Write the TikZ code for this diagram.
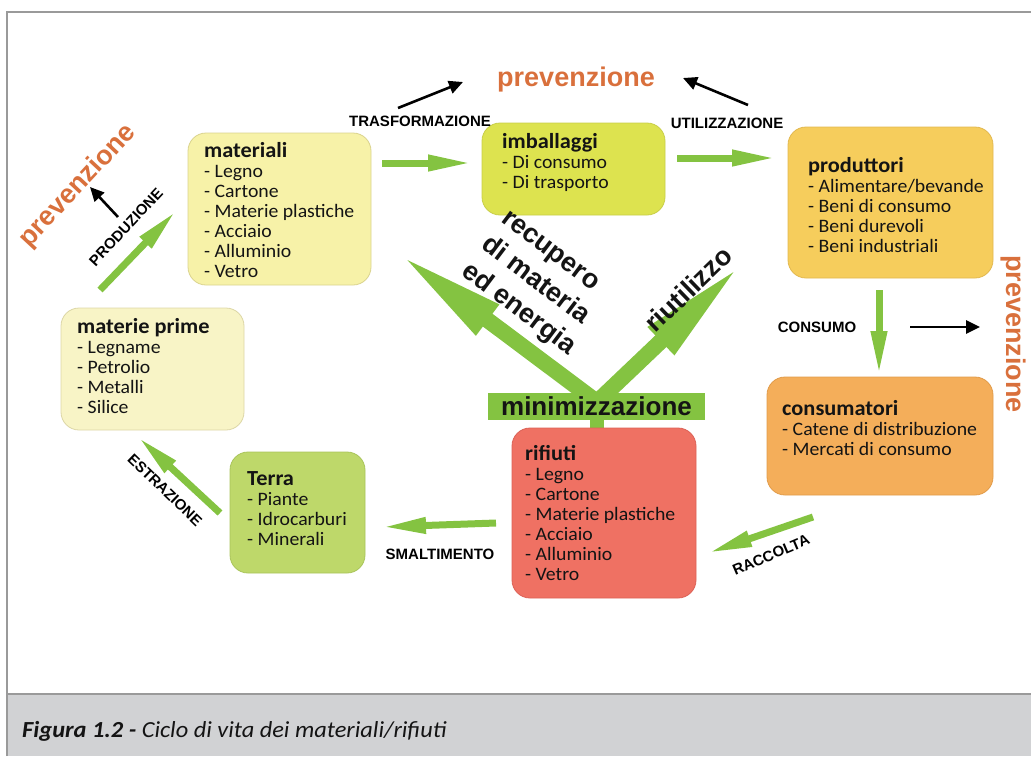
\documentclass[tikz,border=0pt]{standalone}
\usepackage{fontspec}
\setmainfont{Carlito}
\newfontfamily\boxfont[FakeStretch=1.04]{Carlito}
\newfontfamily\capfont[FakeStretch=1.06]{Carlito}
\newfontfamily\arialfont{Liberation Sans}
\usetikzlibrary{arrows.meta}
\definecolor{txt}{HTML}{141414}
\definecolor{agreen}{HTML}{84C341}
\definecolor{porange}{HTML}{D9703C}
\definecolor{cMat}{HTML}{F7F2A8}\definecolor{cMatB}{HTML}{DAD38E}
\definecolor{cImb}{HTML}{DDE34F}\definecolor{cImbB}{HTML}{C8CE48}
\definecolor{cProd}{HTML}{F6CD5C}\definecolor{cProdB}{HTML}{E2B84F}
\definecolor{cMp}{HTML}{F8F4C6}\definecolor{cMpB}{HTML}{DCD6A6}
\definecolor{cCons}{HTML}{F4AE5A}\definecolor{cConsB}{HTML}{E19B49}
\definecolor{cTerra}{HTML}{BED86A}\definecolor{cTerraB}{HTML}{A9C45B}
\definecolor{cRif}{HTML}{EF7163}\definecolor{cRifB}{HTML}{DC6156}
\definecolor{frameg}{HTML}{9A9A9A}
\definecolor{capg}{HTML}{D1D2D4}
\newcommand\bt[1]{{\fontsize{21.5}{20}\selectfont\bfseries #1}}
\begin{document}
\begin{tikzpicture}[x=1pt,y=-1pt,
  box/.style={rounded corners=18pt, line width=0.8pt, inner sep=0pt},
  btext/.style={anchor=north west, inner sep=0pt, align=left, text=txt,
    font=\boxfont\fontsize{19}{20}\selectfont},
  garrow/.style={draw=agreen, line width=7pt, -{Triangle[length=44pt,width=15pt]}},
  bigarrow/.style={draw=agreen, line width=16pt, -{Triangle[length=112pt,width=34pt]}},
  barrow/.style={draw=black, line width=2.6pt, -{Triangle[length=14pt,width=13pt]}},
  lbl/.style={font=\arialfont\bfseries\fontsize{15}{15}\selectfont, inner sep=0pt, text=black},
  prev/.style={font=\arialfont\bfseries\fontsize{27}{27}\selectfont, text=porange, inner sep=0pt},
  bigtxt/.style={font=\arialfont\bfseries\fontsize{27}{33}\selectfont, inner sep=0pt, text=txt}
]
\useasboundingbox (0,0) rectangle (1031,756);
% frame and caption band
\fill[capg] (7,694) rectangle (1031,756);
\draw[frameg, line width=2pt] (7,756) -- (7,12) -- (1031,12);
\draw[frameg, line width=2pt] (7,694) -- (1031,694);
\node[anchor=base west, inner sep=0pt, text=txt, font=\capfont\fontsize{23}{23}\selectfont] (cap) at (22,737)
  {\textbf{\textit{Figura 1.2 -}} \textit{Ciclo di vita dei materiali/rifiuti}};

% big arrows (behind bar)
\coordinate (mstart) at (597,402);
\coordinate (tipL) at (398,253);
\coordinate (tipR) at (742,264);
\draw[bigarrow] (mstart) -- (tipL);
\draw[bigarrow] (mstart) -- (tipR);
\fill[agreen] (590,415) rectangle (604,432);

% boxes
\node[box, fill=cMat, draw=cMatB, minimum width=183pt, minimum height=152pt] (mat) at (279.5,209) {};
\node[box, fill=cImb, draw=cImbB, minimum width=183pt, minimum height=92pt] (imb) at (573.5,169) {};
\node[box, fill=cProd, draw=cProdB, minimum width=205pt, minimum height=151pt] (prod) at (890.5,202.5) {};
\node[box, fill=cCons, draw=cConsB, minimum width=226pt, minimum height=118pt] (cons) at (880,436) {};
\node[box, fill=cMp, draw=cMpB, minimum width=183pt, minimum height=122pt] (mp) at (152.5,369) {};
\node[box, fill=cTerra, draw=cTerraB, minimum width=135pt, minimum height=121pt] (terra) at (297.5,512.5) {};
\node[box, fill=cRif, draw=cRifB, minimum width=184pt, minimum height=170pt] (rif) at (604,513) {};
\node[fill=agreen, minimum width=217pt, minimum height=27pt, inner sep=0pt,
  font=\arialfont\bfseries\fontsize{26}{26}\selectfont, text=txt] (mini) at (596.5,406.5) {minimizzazione};

% box texts
\node[btext] (matT) at (204,142) {\bt{materiali}\\- Legno\\- Cartone\\- Materie plastiche\\- Acciaio\\- Alluminio\\- Vetro};
\node[btext] (imbT) at (502,133) {\bt{imballaggi}\\- Di consumo\\- Di trasporto};
\node[btext] (prodT) at (808,157) {\bt{produttori}\\- Alimentare/bevande\\- Beni di consumo\\- Beni durevoli\\- Beni industriali};
\node[btext] (consT) at (782,400) {\bt{consumatori}\\- Catene di distribuzione\\- Mercati di consumo};
\node[btext] (mpT) at (77,318) {\bt{materie prime}\\- Legname\\- Petrolio\\- Metalli\\- Silice};
\node[btext] (terraT) at (247,471) {\bt{Terra}\\- Piante\\- Idrocarburi\\- Minerali};
\node[btext] (rifT) at (525,445) {\bt{rifiuti}\\- Legno\\- Cartone\\- Materie plastiche\\- Acciaio\\- Alluminio\\- Vetro};

% green arrows
\coordinate (pA) at (100,290); \coordinate (pB) at (176,211);
\coordinate (eA) at (220,513); \coordinate (eB) at (138,437);
\coordinate (sA) at (496,523); \coordinate (sB) at (382,527);
\coordinate (rA) at (813,517); \coordinate (rB) at (708,553);
\coordinate (cA) at (879,290); \coordinate (cB) at (879,375);
\coordinate (tA) at (382,163); \coordinate (tB) at (472,163);
\coordinate (uA) at (677,158); \coordinate (uB) at (776,158);
\draw[garrow] (pA) -- (pB);
\draw[garrow] (eA) -- (eB);
\draw[garrow] (sA) -- (sB);
\draw[garrow] (rA) -- (rB);
\draw[garrow] (cA) -- (cB);
\draw[garrow] (tA) -- (tB);
\draw[garrow] (uA) -- (uB);

% black arrows
\coordinate (trA) at (398,108); \coordinate (trB) at (463,82);
\coordinate (utA) at (748,105); \coordinate (utB) at (683,78);
\coordinate (prA) at (118,217); \coordinate (prB) at (90,187);
\coordinate (coA) at (910,327); \coordinate (coB) at (980,327);
\draw[barrow] (trA) -- (trB);
\draw[barrow] (utA) -- (utB);
\draw[barrow] (prA) -- (prB);
\draw[barrow] (coA) -- (coB);

% labels
\node[lbl] (lTr) at (420,121) {TRASFORMAZIONE};
\node[lbl] (lUt) at (727,123) {UTILIZZAZIONE};
\node[lbl, rotate=47] (lPr) at (126,227) {PRODUZIONE};
\node[lbl, rotate=-44] (lEs) at (165,490) {ESTRAZIONE};
\node[lbl] (lSm) at (440,554) {SMALTIMENTO};
\node[lbl, rotate=23] (lRa) at (771,555) {RACCOLTA};
\node[lbl] (lCo) at (817,327) {CONSUMO};

\node[prev] (pTop) at (576,80) {prevenzione};
\node[prev, rotate=47] (pLeft) at (78,186) {prevenzione};
\node[prev, rotate=-90] (pRight) at (1013,334) {prevenzione};

\node[bigtxt, align=left, rotate=-37] (rec) at (537,285) {recupero\\di materia\\ed energia};
\node[bigtxt, rotate=44] (riu) at (688,289) {riutilizzo};
\end{tikzpicture}
\end{document}
